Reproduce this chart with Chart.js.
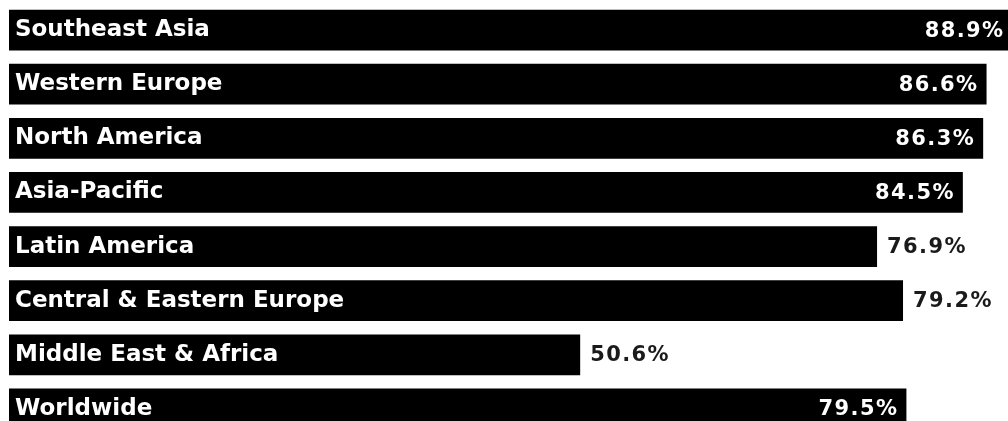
<!DOCTYPE html>
<html>
<head>
<meta charset="utf-8">
<script src="https://cdn.jsdelivr.net/npm/chart.js@4/dist/chart.umd.min.js"></script>
<style>
  html, body { margin: 0; padding: 0; background: #ffffff; overflow: hidden; }
  #wrap { width: 1008px; height: 440px; }
</style>
</head>
<body>
<div id="wrap"><canvas id="chart" width="1008" height="440"></canvas></div>
<script>
// Share of respondents by region (%)
const regions = [
  'Southeast Asia',
  'Western Europe',
  'North America',
  'Asia-Pacific',
  'Latin America',
  'Central & Eastern Europe',
  'Middle East & Africa',
  'Worldwide'
];
const shares = [88.9, 86.6, 86.3, 84.5, 76.9, 79.2, 50.6, 79.5];
// whether each value label sits inside the bar end (true) or just after it (false)
const valueInside = [true, true, true, true, false, false, false, true];

const VALUE_FONT = 'bold 21px "DejaVu Sans"';

const valueLabels = {
  id: 'valueLabels',
  afterDatasetsDraw(chart) {
    const ctx = chart.ctx;
    const meta = chart.getDatasetMeta(0);
    ctx.save();
    ctx.font = VALUE_FONT;
    ctx.letterSpacing = '1.4px';
    ctx.textBaseline = 'middle';
    meta.data.forEach((bar, i) => {
      const text = shares[i].toFixed(1) + '%';
      if (valueInside[i]) {
        ctx.fillStyle = '#ffffff';
        ctx.textAlign = 'right';
        ctx.fillText(text, bar.x - 8, bar.y + 1);
      } else {
        ctx.fillStyle = '#1a1a1a';
        ctx.textAlign = 'left';
        ctx.fillText(text, bar.x + 10, bar.y + 1);
      }
    });
    ctx.restore();
  }
};

new Chart(document.getElementById('chart'), {
  type: 'bar',
  data: {
    labels: regions,
    datasets: [{
      data: shares,
      backgroundColor: '#000000',
      borderWidth: 0,
      categoryPercentage: 1,
      barPercentage: 0.752
    }]
  },
  options: {
    indexAxis: 'y',
    responsive: false,
    animation: false,
    devicePixelRatio: 1,
    layout: { padding: { left: 9, right: 0, top: 3, bottom: 4 } },
    plugins: { legend: { display: false }, tooltip: { enabled: false } },
    scales: {
      x: { display: false, min: 0, max: 88.5 },
      y: {
        display: true,
        afterFit(scale) {
          scale.width = 0;
          scale.paddingTop = 0;
          scale.paddingBottom = 0;
        },
        grid: { display: false, drawTicks: false },
        border: { display: false },
        ticks: {
          mirror: true,
          z: 1,
          padding: 6,
          color: '#ffffff',
          font: { family: 'DejaVu Sans', size: 23, weight: 'bold' }
        }
      }
    }
  },
  plugins: [valueLabels]
});
</script>
</body>
</html>
